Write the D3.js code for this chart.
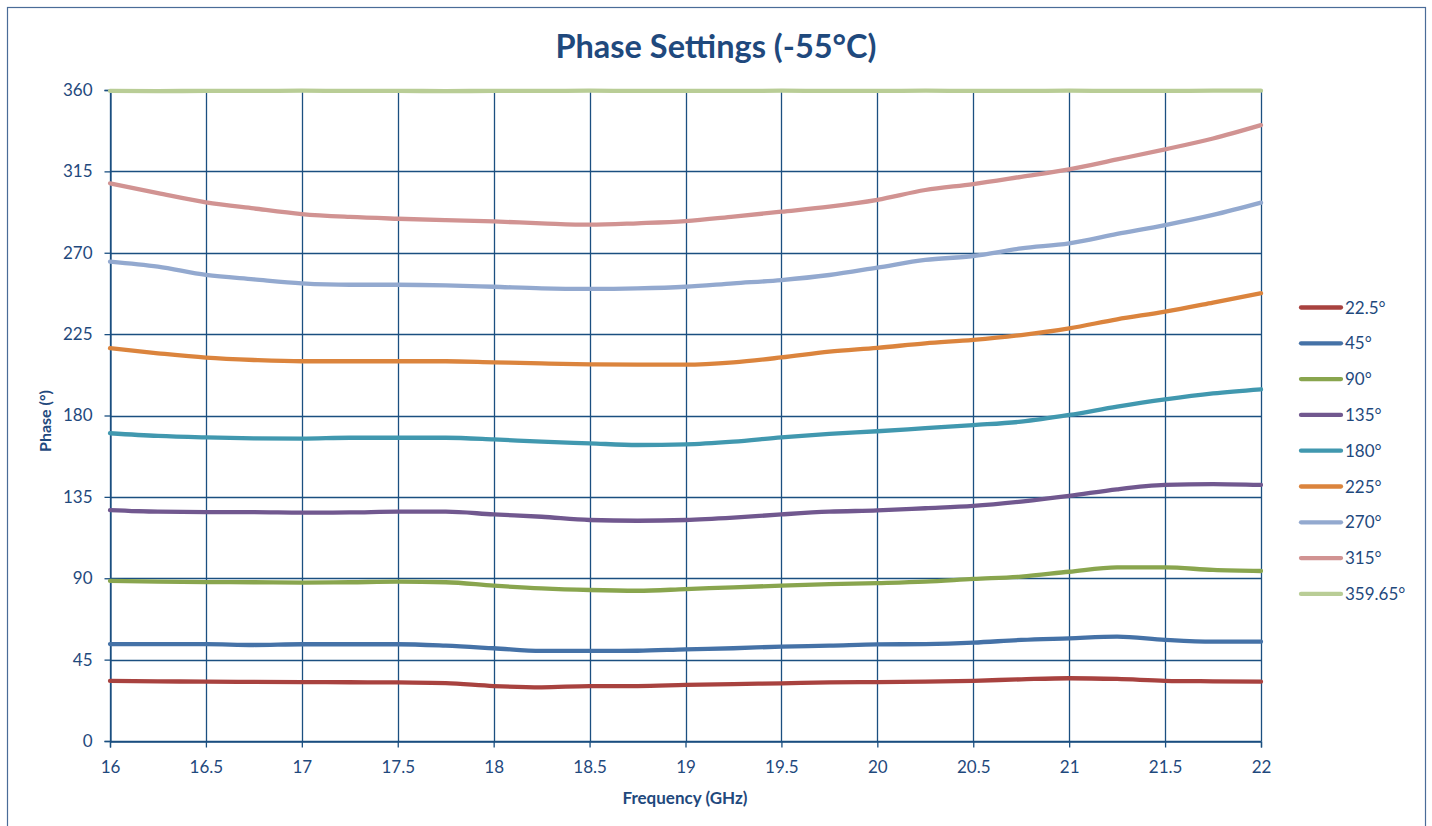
<!DOCTYPE html>
<html>
<head>
<meta charset="utf-8">
<script src="https://cdn.jsdelivr.net/npm/d3@7"></script>
<style>
  html, body { margin: 0; padding: 0; background: #fff; }
  svg { display: block; font-family: Lato, "Open Sans", sans-serif; }
</style>
</head>
<body>
<svg id="chart" width="1432" height="826"></svg>
<script>
const freqs = [16, 16.25, 16.5, 16.75, 17, 17.25, 17.5, 17.75, 18, 18.25, 18.5, 18.75, 19, 19.25, 19.5, 19.75, 20, 20.25, 20.5, 20.75, 21, 21.25, 21.5, 21.75, 22];

const s22_5 = [33.2, 33.0, 32.8, 32.7, 32.6, 32.5, 32.4, 32.0, 30.4, 29.7, 30.4, 30.4, 31.0, 31.5, 31.9, 32.4, 32.6, 32.8, 33.3, 34.1, 34.7, 34.3, 33.3, 33.0, 32.8];
const s45   = [53.6, 53.6, 53.6, 53.1, 53.5, 53.5, 53.5, 52.7, 51.3, 49.8, 49.8, 49.9, 50.7, 51.3, 52.2, 52.7, 53.4, 53.6, 54.4, 55.9, 56.8, 57.7, 55.9, 54.9, 54.9];
const s90   = [88.5, 88.1, 87.9, 87.8, 87.6, 87.8, 88.1, 87.8, 85.9, 84.4, 83.5, 83.1, 84.0, 85.0, 85.9, 86.7, 87.3, 88.1, 89.6, 90.9, 93.6, 96.0, 96.0, 94.6, 94.0];
const s135  = [127.7, 126.8, 126.6, 126.6, 126.3, 126.4, 126.8, 126.8, 125.3, 124.0, 122.2, 121.8, 122.2, 123.5, 125.3, 126.8, 127.5, 128.7, 130.0, 132.4, 135.5, 139.2, 141.6, 142.1, 141.6];
const s180  = [170.2, 168.7, 167.9, 167.4, 167.2, 167.7, 167.7, 167.7, 166.8, 165.5, 164.6, 163.7, 164.0, 165.5, 167.9, 169.8, 171.3, 173.0, 174.7, 176.6, 180.3, 184.9, 188.9, 192.2, 194.5];
const s225  = [217.2, 214.4, 212.0, 210.7, 210.0, 210.0, 210.0, 210.0, 209.4, 208.8, 208.3, 208.1, 208.1, 209.4, 212.1, 215.3, 217.4, 219.9, 221.8, 224.5, 228.2, 233.2, 237.4, 242.4, 247.6];
const s270  = [265.1, 262.3, 257.7, 255.3, 253.1, 252.3, 252.3, 252.0, 251.2, 250.3, 250.0, 250.3, 251.2, 253.1, 254.9, 257.7, 261.8, 266.0, 268.2, 272.4, 275.2, 280.4, 285.3, 290.9, 297.7];
const s315  = [308.4, 303.0, 297.9, 294.5, 291.4, 289.8, 288.8, 288.0, 287.3, 286.3, 285.5, 286.3, 287.5, 290.0, 292.7, 295.5, 299.3, 304.7, 308.0, 312.0, 316.1, 321.6, 327.2, 333.2, 340.6];
const s359  = [359.5, 359.4, 359.5, 359.5, 359.6, 359.5, 359.5, 359.4, 359.5, 359.5, 359.6, 359.5, 359.5, 359.5, 359.6, 359.5, 359.5, 359.6, 359.5, 359.5, 359.6, 359.5, 359.5, 359.6, 359.6];

const seriesNames = ["22.5°", "45°", "90°", "135°", "180°", "225°", "270°", "315°", "359.65°"];
const seriesColors = ["#a8423f", "#4572a7", "#89a54e", "#71588f", "#4198af", "#db843d", "#93a9cf", "#d19392", "#b9cd96"];
const seriesValues = [s22_5, s45, s90, s135, s180, s225, s270, s315, s359];

const xTicks = [16, 16.5, 17, 17.5, 18, 18.5, 19, 19.5, 20, 20.5, 21, 21.5, 22];
const yTicks = [0, 45, 90, 135, 180, 225, 270, 315, 360];

const titleText = "Phase Settings (-55°C)";
const xTitle = "Frequency (GHz)";
const yTitle = "Phase (°)";

(function () {
const svg = d3.select("#chart");
const textColor = "#1f497d";
const gridColor = "#1b4f80";

svg.append("rect")
  .attr("x", 7.5).attr("y", 7.5).attr("width", 1418).attr("height", 830)
  .attr("fill", "#fff").attr("stroke", "#4a6c98").attr("stroke-width", 1.2);

const pl = 110, pr = 1261, pt = 90, pb = 741;
const x = d3.scaleLinear().domain([16, 22]).range([pl, pr]);
const y = d3.scaleLinear().domain([0, 360]).range([pb, pt]);

const g = svg.append("g");
g.selectAll("line.h").data(yTicks).join("line").attr("class", "h")
  .attr("x1", pl).attr("x2", pr)
  .attr("y1", d => Math.round(y(d)) + 0.5).attr("y2", d => Math.round(y(d)) + 0.5)
  .attr("stroke", gridColor).attr("stroke-width", 1.3);
g.selectAll("line.v").data(xTicks).join("line").attr("class", "v")
  .attr("y1", pt).attr("y2", pb)
  .attr("x1", d => Math.round(x(d)) + 0.5).attr("x2", d => Math.round(x(d)) + 0.5)
  .attr("stroke", gridColor).attr("stroke-width", 1.3);

const xAxis = svg.append("g").attr("transform", `translate(0,${pb + 0.5})`)
  .call(d3.axisBottom(x).tickValues(xTicks).tickSize(6).tickPadding(13).tickFormat(d => d3.format("")(d)));
const yAxis = svg.append("g").attr("transform", `translate(${pl + 0.5},0)`)
  .call(d3.axisLeft(y).tickValues(yTicks).tickSize(6).tickPadding(12));
[xAxis, yAxis].forEach(a => {
  a.select(".domain").attr("stroke", gridColor).attr("stroke-width", 1.3);
  a.selectAll(".tick line").attr("stroke", gridColor).attr("stroke-width", 1.3);
  a.selectAll(".tick text").attr("fill", textColor).attr("font-size", 17)
    .attr("font-family", "Lato, 'Open Sans', sans-serif");
});

const line = d3.line().x((d, i) => x(freqs[i])).y(d => y(d)).curve(d3.curveMonotoneX);
svg.append("g").selectAll("path").data(seriesValues).join("path")
  .attr("d", d => line(d))
  .attr("fill", "none")
  .attr("stroke", (d, i) => seriesColors[i])
  .attr("stroke-width", 4.3)
  .attr("stroke-linejoin", "round").attr("stroke-linecap", "round");

svg.append("text").attr("x", 716).attr("y", 58).attr("text-anchor", "middle")
  .attr("fill", textColor).attr("font-size", 32.5).attr("font-weight", "bold").text(titleText);
svg.append("text").attr("x", 685).attr("y", 804).attr("text-anchor", "middle")
  .attr("fill", textColor).attr("font-size", 17).attr("font-weight", "bold").text(xTitle);
svg.append("text").attr("transform", "translate(51,421) rotate(-90)").attr("text-anchor", "middle")
  .attr("fill", textColor).attr("font-size", 16).attr("font-weight", "bold").text(yTitle);

const leg = svg.append("g");
const legItems = leg.selectAll("g").data(seriesNames).join("g")
  .attr("transform", (d, i) => `translate(1301,${307.5 + i * 35.8})`);
legItems.append("line").attr("x1", 0).attr("x2", 40).attr("y1", 0).attr("y2", 0)
  .attr("stroke", (d, i) => seriesColors[i]).attr("stroke-width", 4.3).attr("stroke-linecap", "round");
legItems.append("text").attr("x", 44).attr("y", 6).attr("fill", textColor)
  .attr("font-size", 17).text(d => d);
})();
</script>
</body>
</html>
